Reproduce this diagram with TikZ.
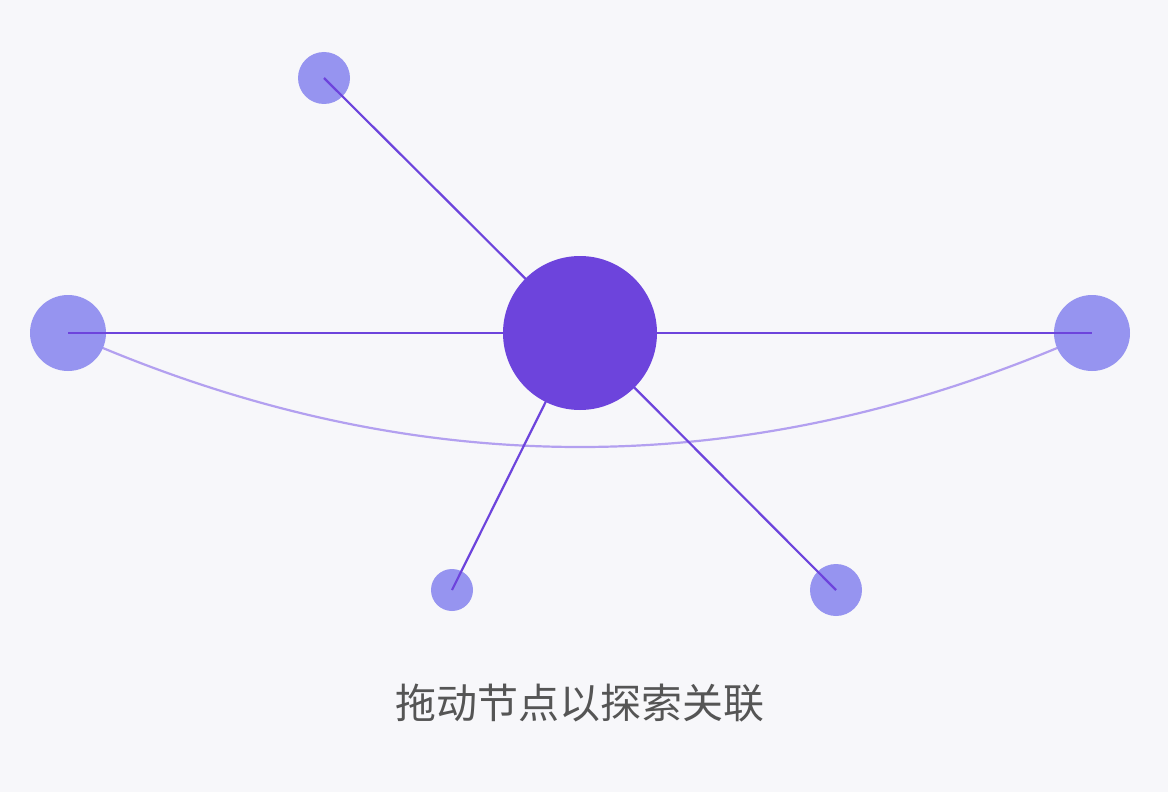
\documentclass[tikz,border=0pt]{standalone}
\usepackage{fontspec}
\newfontfamily\cjk{Noto Sans CJK SC}
\definecolor{bgc}{HTML}{F7F7FA}
\definecolor{hubc}{HTML}{6D44DC}
\definecolor{leafc}{HTML}{9694F0}
\definecolor{arcc}{HTML}{B3A0F0}
\definecolor{txtc}{HTML}{555555}
\begin{document}
\begin{tikzpicture}[x=0.5pt,y=-0.5pt,
	leaf/.style={circle,fill=leafc,inner sep=0pt,outer sep=0pt},
	hub/.style={circle,fill=hubc,inner sep=0pt,outer sep=0pt,minimum size=77pt},
	link/.style={draw=hubc,line width=1.1pt},
	bond/.style={draw=arcc,line width=1.1pt}]
	\fill[bgc] (0,0) rectangle (1168,792);
	\useasboundingbox (0,0) rectangle (1168,792);
	\coordinate (c) at (580,333);
	% the curved bond goes under the nodes
	\path[bond] (68,333) .. controls (409.3,485) and (750.7,485) .. (1092,333);
	\node[leaf,minimum size=38pt] at (68,333)	(l) {};
	\node[leaf,minimum size=38pt] at (1092,333)	(r) {};
	\node[leaf,minimum size=26pt] at (324,78)	(t) {};
	\node[leaf,minimum size=21pt] at (452,590)	(bl) {};
	\node[leaf,minimum size=26pt] at (836,590)	(br) {};
	\foreach \n in {l,r,t,bl,br}
		\path[link] (c) -- (\n.center);
	\node[hub] at (c) (hub) {};
	\node[text=txtc,font=\cjk\fontsize{20.5}{24}\selectfont] at (580,703) (cap) {拖动节点以探索关联};
\end{tikzpicture}
\end{document}
